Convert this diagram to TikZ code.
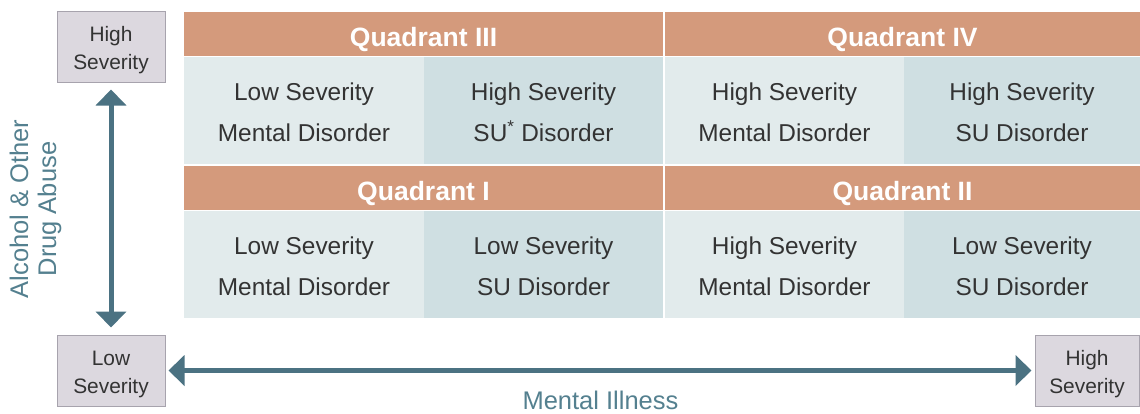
\documentclass[tikz,border=0pt]{standalone}
\usepackage{fontspec}
\setmainfont{Liberation Sans}
\usetikzlibrary{arrows.meta}
\definecolor{headclr}{HTML}{D49A7C}
\definecolor{cellA}{HTML}{E2EBEC}
\definecolor{cellB}{HTML}{CFDFE2}
\definecolor{boxfill}{HTML}{DCD8DF}
\definecolor{boxline}{HTML}{A7A3AD}
\definecolor{axisclr}{HTML}{4B7282}
\definecolor{axistext}{HTML}{54808F}
\definecolor{txt}{HTML}{333333}
\begin{document}
\begin{tikzpicture}[x=1pt,y=-1pt,
    head/.style={fill=headclr,inner sep=0pt,minimum height=44pt,text=white,
      text height=25pt,text depth=0pt,
      font=\fontsize{26.5}{30}\selectfont\bfseries},
    cell/.style={inner sep=0pt,minimum height=107pt,align=center,text=txt,
      text height=62pt,text depth=0pt,
      font=\fontsize{24.4}{41}\selectfont},
    sevbox/.style={draw=boxline,fill=boxfill,line width=1pt,inner sep=0pt,
      minimum height=71pt,align=center,text=txt,
      text height=46pt,text depth=0pt,
      font=\fontsize{20.9}{28}\selectfont},
    axis/.style={draw=axisclr,line width=5pt,{Triangle[width=30pt,length=16pt]}-{Triangle[width=30pt,length=16pt]}},
    axislabel/.style={text=axistext,align=center,inner sep=1pt,font=\fontsize{25.5}{28}\selectfont}]
    \useasboundingbox (0,0) rectangle (1140,413);
    % quadrant headers
    \node[head,minimum width=479pt] (q3) at (423.5,34) {Quadrant III};
    \node[head,minimum width=475pt] (q4) at (902.5,34) {Quadrant IV};
    \node[head,minimum width=479pt] (q1) at (423.5,188) {Quadrant I};
    \node[head,minimum width=475pt] (q2) at (902.5,188) {Quadrant II};
    % cells
    \node[cell,fill=cellA,minimum width=240pt] (c3a) at (304,110.5) {Low Severity\\Mental Disorder};
    \node[cell,fill=cellB,minimum width=239pt] (c3b) at (543.5,110.5) {High Severity\\SU\textsuperscript{*} Disorder};
    \node[cell,fill=cellA,minimum width=239pt] (c4a) at (784.5,110.5) {High Severity\\Mental Disorder};
    \node[cell,fill=cellB,minimum width=236pt] (c4b) at (1022,110.5) {High Severity\\SU Disorder};
    \node[cell,fill=cellA,minimum width=240pt] (c1a) at (304,264.5) {Low Severity\\Mental Disorder};
    \node[cell,fill=cellB,minimum width=239pt] (c1b) at (543.5,264.5) {Low Severity\\SU Disorder};
    \node[cell,fill=cellA,minimum width=239pt] (c2a) at (784.5,264.5) {High Severity\\Mental Disorder};
    \node[cell,fill=cellB,minimum width=236pt] (c2b) at (1022,264.5) {Low Severity\\SU Disorder};
    % severity boxes
    \node[sevbox,minimum width=108pt] (sutop) at (111,46.5) {High\\Severity};
    \node[sevbox,minimum width=108pt] (low) at (111,370.5) {Low\\Severity};
    \node[sevbox,minimum width=104pt] (mitop) at (1087,370.5) {High\\Severity};
    % axes
    \draw[axis,shorten <=7pt,shorten >=7pt] (sutop) -- (low);
    \draw[axis,shorten <=3pt,shorten >=3pt] (low) -- (mitop);
    \node[axislabel] (milabel) at (600.5,400) {Mental Illness};
    \node[axislabel,rotate=90] (sulabel) at (35.5,209) {Alcohol \& Other\\Drug Abuse};
\end{tikzpicture}
\end{document}
